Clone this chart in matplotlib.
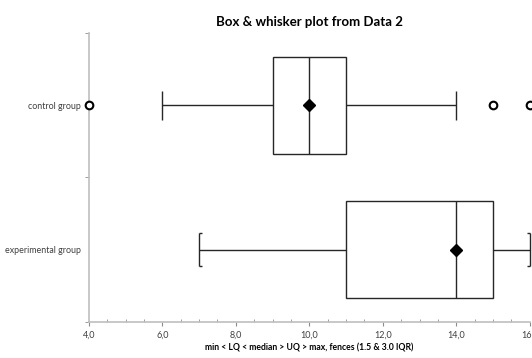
import numpy as np
import matplotlib.pyplot as plt
from matplotlib.ticker import MultipleLocator, FuncFormatter

# data
groups = ["experimental group", "control group"]
mins = [7.0, 6.0]
lq = [11.0, 9.0]
medians = [14.0, 10.0]
uq = [15.0, 11.0]
maxs = [16.0, 14.0]
means = [14.0, 10.0]
outliers = [[], [4.0, 15.0, 16.0]]
bracket_caps = [True, False]

plt.rcParams['font.family'] = ['Lato', 'DejaVu Sans']

fig = plt.figure(figsize=(5.32, 3.58), dpi=100)
ax = fig.add_axes([0.167, 0.1006, 0.829, 0.8074])

line_c = '#262626'
box_h = 0.67
cap_h = 0.2

for i, g in enumerate(groups):
    y = i + 0.5
    # box
    ax.add_patch(plt.Rectangle((lq[i], y - box_h / 2), uq[i] - lq[i], box_h,
                               fill=False, ec=line_c, lw=1.0, zorder=3))
    ax.vlines(medians[i], y - box_h / 2, y + box_h / 2, color=line_c, lw=1.0, zorder=3)
    # whiskers
    ax.hlines(y, mins[i], lq[i], color=line_c, lw=1.0, zorder=3)
    ax.hlines(y, uq[i], maxs[i], color=line_c, lw=1.0, zorder=3)
    ch = cap_h / 2 * (1.15 if bracket_caps[i] else 1)
    ax.vlines([mins[i], maxs[i]], y - ch, y + ch,
              color=line_c, lw=1.0, zorder=3, clip_on=False)
    if bracket_caps[i]:
        foot = 0.09
        for yy in (y - ch, y + ch):
            ax.hlines(yy, mins[i], mins[i] + foot, color=line_c, lw=1.0, zorder=3)
            ax.hlines(yy, maxs[i] - foot, maxs[i], color=line_c, lw=1.0, zorder=3, clip_on=False)
    # mean
    ax.plot(means[i], y, marker='D', ms=6, color='black', zorder=5)
    # outliers
    if outliers[i]:
        ax.plot(outliers[i], [y] * len(outliers[i]), ls='none', marker='o', ms=5.5,
                mfc='white', mec='black', mew=1.5, zorder=6, clip_on=False)

ax.set_xlim(4, 16)
ax.set_ylim(0, 2)
ax.xaxis.set_major_locator(MultipleLocator(2))
ax.xaxis.set_minor_locator(MultipleLocator(0.5))
ax.xaxis.set_major_formatter(FuncFormatter(lambda v, p: f"{v:.1f}".replace('.', ',')))

ax.set_yticks([0.5, 1.5])
ax.set_yticklabels(groups)
ax.set_yticks([0, 1, 2], minor=True)

for s in ['top', 'right']:
    ax.spines[s].set_visible(False)
for s in ['left', 'bottom']:
    ax.spines[s].set_color('#bfbfbf')
    ax.spines[s].set_linewidth(1.2)

ax.tick_params(axis='y', which='major', length=0, labelsize=6.4, labelcolor='#404040', pad=6)
ax.tick_params(axis='y', which='minor', length=3, color='#8c8c8c', direction='out')
ax.tick_params(axis='x', which='major', length=3, color='#8c8c8c', direction='out',
               labelsize=6.5, labelcolor='#404040', pad=3)
ax.tick_params(axis='x', which='minor', length=2, color='#8c8c8c', direction='in')

ax.set_title("Box & whisker plot from Data 2", fontsize=9.5, fontweight='bold', pad=5)
ax.set_xlabel("min < LQ < median > UQ > max, fences (1.5 & 3.0 IQR)",
              fontsize=6.2, fontweight='bold', labelpad=3)

fig.savefig("out.png", dpi=100)
